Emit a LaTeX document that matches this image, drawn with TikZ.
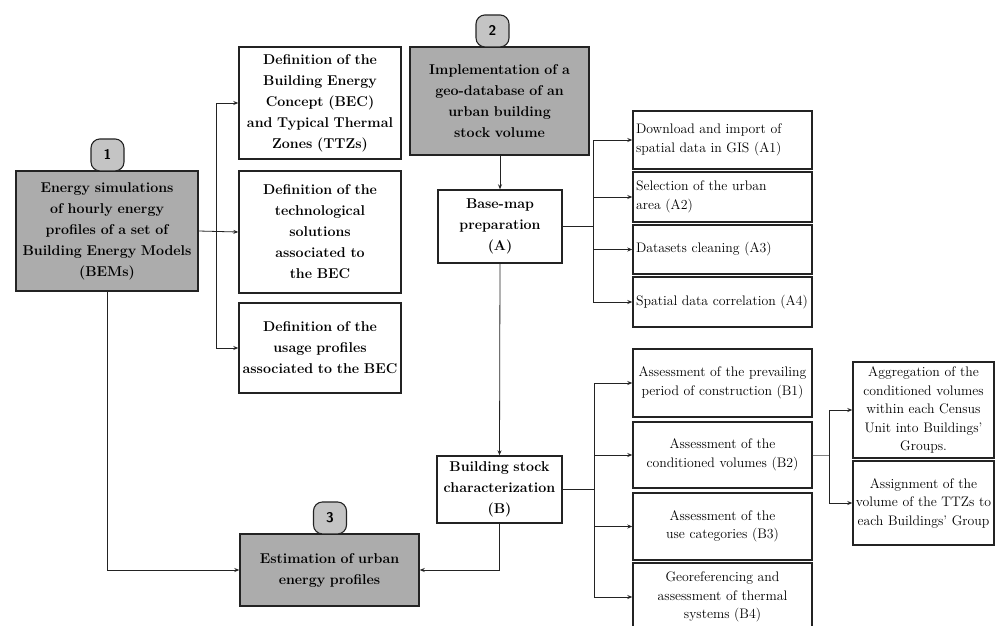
\documentclass[tikz,border=0pt]{standalone}
\usetikzlibrary{arrows.meta}
\definecolor{boxgray}{RGB}{172,172,172}
\definecolor{badgegray}{RGB}{196,196,196}
\definecolor{linecol}{RGB}{35,35,35}
\begin{document}
\begin{tikzpicture}[x=1pt,y=-1pt,
  boldbox/.style={draw=linecol,line width=1.4pt,inner sep=2pt,align=center,
    font=\fontsize{14.2}{21}\selectfont\bfseries},
  graybox/.style={boldbox,fill=boxgray},
  smallbox/.style={draw=linecol,line width=1.4pt,inner sep=2pt,align=center,
    font=\fontsize{13.8}{18.5}\selectfont},
  leftbox/.style={smallbox,align=left,inner xsep=3pt},
  badge/.style={draw=linecol,line width=1.1pt,fill=badgegray,rounded corners=9pt,
    minimum width=33pt,minimum height=32pt,inner sep=0pt,
    font=\fontsize{14}{16}\selectfont\sffamily\bfseries},
  conn/.style={draw=linecol,line width=0.8pt},
  arr/.style={conn,-{Stealth[length=5pt,width=4pt]}}
]
\useasboundingbox (0,0) rectangle (995,625);

% gray main boxes
\node[graybox,text width=178pt,minimum height=120pt] (s1) at (107,231)
  {Energy simulations\\of hourly energy\\profiles of a set of\\Building Energy Models\\(BEMs)};
\node[graybox,text width=175pt,minimum height=108pt] (s2) at (499.5,101)
  {Implementation of a\\geo-database of an\\urban building\\stock volume};
\node[graybox,text width=175pt,minimum height=72pt] (s3) at (329.5,570)
  {Estimation of urban\\energy profiles};

% badges
\node[badge,anchor=south] (b1) at (107.5,171.5) {1};
\node[badge,anchor=south] (b2) at (492.5,47.5) {2};
\node[badge,anchor=south] (b3) at (330,534.5) {3};

% definition boxes
\node[boldbox,text width=158pt,minimum height=112pt] (bec) at (320,103)
  {Definition of the\\Building Energy\\Concept (BEC)\\and Typical Thermal\\Zones (TTZs)};
\node[boldbox,text width=158pt,minimum height=122pt] (tech) at (320,232)
  {Definition of the\\technological\\solutions\\associated to\\the BEC};
\node[boldbox,text width=158pt,minimum height=90pt] (usage) at (320,348)
  {Definition of the\\usage profiles\\associated to the BEC};

% A and B
\node[boldbox,text width=120pt,minimum height=73pt] (A) at (500,226.5)
  {Base-map\\preparation\\(A)};
\node[boldbox,text width=121pt,minimum height=67pt] (B) at (499.5,489.5)
  {Building stock\\characterization\\(B)};

% A sub-boxes
\node[leftbox,text width=173pt,minimum height=58pt] (A1) at (722.5,140)
  {Download and import of\\spatial data in GIS (A1)};
\node[leftbox,text width=173pt,minimum height=50pt] (A2) at (722.5,197)
  {Selection of the urban\\area (A2)};
\node[leftbox,text width=173pt,minimum height=49pt] (A3) at (722.5,249.5)
  {Datasets cleaning (A3)};
\node[leftbox,text width=173pt,minimum height=50pt] (A4) at (722.5,302)
  {Spatial data correlation (A4)};

% B sub-boxes
\node[smallbox,text width=175pt,minimum height=68pt] (B1) at (722.5,383)
  {Assessment of the prevailing\\period of construction (B1)};
\node[smallbox,text width=175pt,minimum height=66pt] (B2) at (722.5,455)
  {Assessment of the\\conditioned volumes (B2)};
\node[smallbox,text width=175pt,minimum height=67pt] (B3) at (722.5,526.5)
  {Assessment of the\\use categories (B3)};
\node[smallbox,text width=175pt,minimum height=68pt] (B4) at (722.5,597)
  {Georeferencing and\\assessment of thermal\\systems (B4)};

% C boxes
\node[smallbox,text width=137pt,minimum height=96pt] (C1) at (923.5,410)
  {Aggregation of the\\conditioned volumes\\within each Census\\Unit into Buildings’\\Groups.};
\node[smallbox,text width=137pt,minimum height=84pt] (C2) at (923.5,503)
  {Assignment of the\\volume of the TTZs to\\each Buildings’ Group};

% junction coordinates
\coordinate (j1) at (216,231);
\coordinate (jA) at (593,226.5);
\coordinate (jB) at (594,489.5);
\coordinate (jC) at (829,455);

% connectors from 1
\draw[arr] (s1.east) -- (tech.west);
\draw[arr] (j1) |- (bec.west);
\draw[arr] (j1) |- (usage.west);
\draw[arr] (s1.south) |- (s3.west);

% connectors from 2
\draw[arr] (s2.south -| A.north) -- (A.north);
\draw[arr] (A.south) -- (B.north);
\draw[arr] (B.south) |- (s3.east);

% A branch
\draw[conn] (A.east) -- (jA);
\draw[arr] (jA) |- (A1.west);
\draw[arr] (jA) |- (A2.west);
\draw[arr] (jA) |- (A3.west);
\draw[arr] (jA) |- (A4.west);

% B branch
\draw[conn] (B.east) -- (jB);
\draw[arr] (jB) |- (B1.west);
\draw[arr] (jB) |- (B2.west);
\draw[arr] (jB) |- (B3.west);
\draw[arr] (jB) |- (B4.west);

% C branch
\draw[conn,draw=gray] (B2.east) -- (jC);
\draw[arr] (jC) |- (C1.west);
\draw[arr] (jC) |- (C2.west);
\end{tikzpicture}
\end{document}
